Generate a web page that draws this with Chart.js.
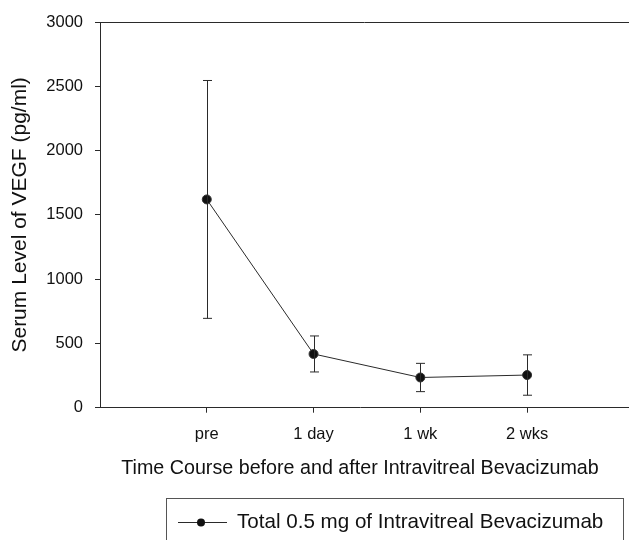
<!DOCTYPE html>
<html>
<head>
<meta charset="utf-8">
<script src="https://cdn.jsdelivr.net/npm/chart.js@4.4.1/dist/chart.umd.min.js"></script>
<style>
  html, body { margin: 0; padding: 0; background: #fff; }
  #wrap { width: 629px; height: 540px; overflow: hidden; position: relative; }
  #wrap canvas { position: absolute; left: 0; top: 0; }
</style>
</head>
<body>
<div id="wrap"><canvas id="c" width="629" height="540"></canvas></div>
<script>
// Time points and serum VEGF (pg/ml), mean and standard deviation
const timePoints = ['pre', '1 day', '1 wk', '2 wks'];
const meanVEGF = [1620, 418, 235, 254];
const sdVEGF = [925, 140, 110, 157];
const yTicks = [0, 500, 1000, 1500, 2000, 2500, 3000];
const seriesLabel = 'Total 0.5 mg of Intravitreal Bevacizumab';

const FONT = '"Liberation Sans", Arial, sans-serif';
const INK = '#2a2a2a';

const points = meanVEGF.map((v, i) => ({ x: i + 1, y: v }));

// Vertical error bars with caps, placed through the chart scales
const errorBars = {
  id: 'errorBars',
  afterDatasetsDraw(chart) {
    const { ctx, scales: { x, y } } = chart;
    ctx.save();
    ctx.strokeStyle = INK;
    ctx.lineWidth = 1;
    meanVEGF.forEach((m, i) => {
      const px = Math.round(x.getPixelForValue(i + 1)) + 0.5;
      const top = y.getPixelForValue(m + sdVEGF[i]);
      const bot = y.getPixelForValue(m - sdVEGF[i]);
      ctx.beginPath();
      ctx.moveTo(px, top); ctx.lineTo(px, bot);
      ctx.moveTo(px - 4.5, top); ctx.lineTo(px + 4.5, top);
      ctx.moveTo(px - 4.5, bot); ctx.lineTo(px + 4.5, bot);
      ctx.stroke();
    });
    ctx.restore();
  }
};

// Top frame line, and the open right end of the frame running to the page edge
const frame = {
  id: 'frame',
  afterDraw(chart) {
    const { ctx, chartArea: a, width } = chart;
    const align = (p) => Math.round(p - 0.5) + 0.5;
    ctx.save();
    ctx.strokeStyle = INK;
    ctx.lineWidth = 1;
    ctx.beginPath();
    ctx.moveTo(a.left, align(a.top));
    ctx.lineTo(width, align(a.top));
    ctx.moveTo(a.right - 1, align(a.bottom));
    ctx.lineTo(width, align(a.bottom));
    ctx.stroke();
    ctx.restore();
  }
};

// Boxed legend below the axis title
const boxLegend = {
  id: 'boxLegend',
  afterDraw(chart) {
    const { ctx } = chart;
    ctx.save();
    ctx.strokeStyle = '#555';
    ctx.lineWidth = 1;
    ctx.strokeRect(166.5, 498.5, 457, 60);
    const ly = 522;
    ctx.strokeStyle = INK;
    ctx.beginPath();
    ctx.moveTo(178, ly + 0.5); ctx.lineTo(227, ly + 0.5);
    ctx.stroke();
    ctx.beginPath();
    ctx.arc(201, ly + 0.5, 4, 0, Math.PI * 2);
    ctx.fillStyle = '#111';
    ctx.fill();
    ctx.font = '20.6px ' + FONT;
    ctx.fillStyle = '#111';
    ctx.textBaseline = 'middle';
    ctx.textAlign = 'left';
    ctx.fillText(chart.data.datasets[0].label, 237, ly);
    ctx.restore();
  }
};

new Chart(document.getElementById('c'), {
  type: 'line',
  data: {
    datasets: [{
      label: seriesLabel,
      data: points,
      borderColor: INK,
      borderWidth: 1,
      backgroundColor: '#111',
      pointBackgroundColor: '#111',
      pointBorderColor: '#333',
      pointBorderWidth: 1,
      pointRadius: 4.5,
      tension: 0
    }]
  },
  options: {
    responsive: false,
    animation: false,
    events: [],
    layout: { padding: { top: 22, right: 9, bottom: 0, left: 0 } },
    plugins: { legend: { display: false }, tooltip: { enabled: false } },
    scales: {
      x: {
        type: 'linear',
        min: 0,
        max: 4.87,
        afterFit(s) { s.height = 132.3; },
        afterBuildTicks(s) { s.ticks = timePoints.map((_, i) => ({ value: i + 1 })); },
        grid: { display: true, drawOnChartArea: false, drawTicks: true, tickLength: 5, color: INK },
        border: { display: true, color: INK, width: 1 },
        ticks: {
          padding: 12,
          color: '#111',
          font: { family: FONT, size: 16.5 },
          maxRotation: 0,
          callback: (v) => timePoints[v - 1]
        },
        title: {
          display: true,
          text: 'Time Course before and after Intravitreal Bevacizumab',
          color: '#111',
          font: { family: FONT, size: 19.7 },
          padding: { top: 0, bottom: 60 }
        }
      },
      y: {
        min: 0,
        max: 3000,
        afterFit(s) { s.width = 100; },
        afterBuildTicks(s) { s.ticks = yTicks.map(v => ({ value: v })); },
        grid: { display: true, drawOnChartArea: false, drawTicks: true, tickLength: 5, color: INK },
        border: { display: true, color: INK, width: 1 },
        ticks: {
          padding: 12,
          color: '#111',
          font: { family: FONT, size: 16.5 },
          callback: (v) => String(v)
        },
        title: {
          display: true,
          text: 'Serum Level of VEGF (pg/ml)',
          color: '#111',
          font: { family: FONT, size: 21 },
          padding: { top: 8, bottom: 0 }
        }
      }
    }
  },
  plugins: [errorBars, frame, boxLegend]
});
</script>
</body>
</html>
